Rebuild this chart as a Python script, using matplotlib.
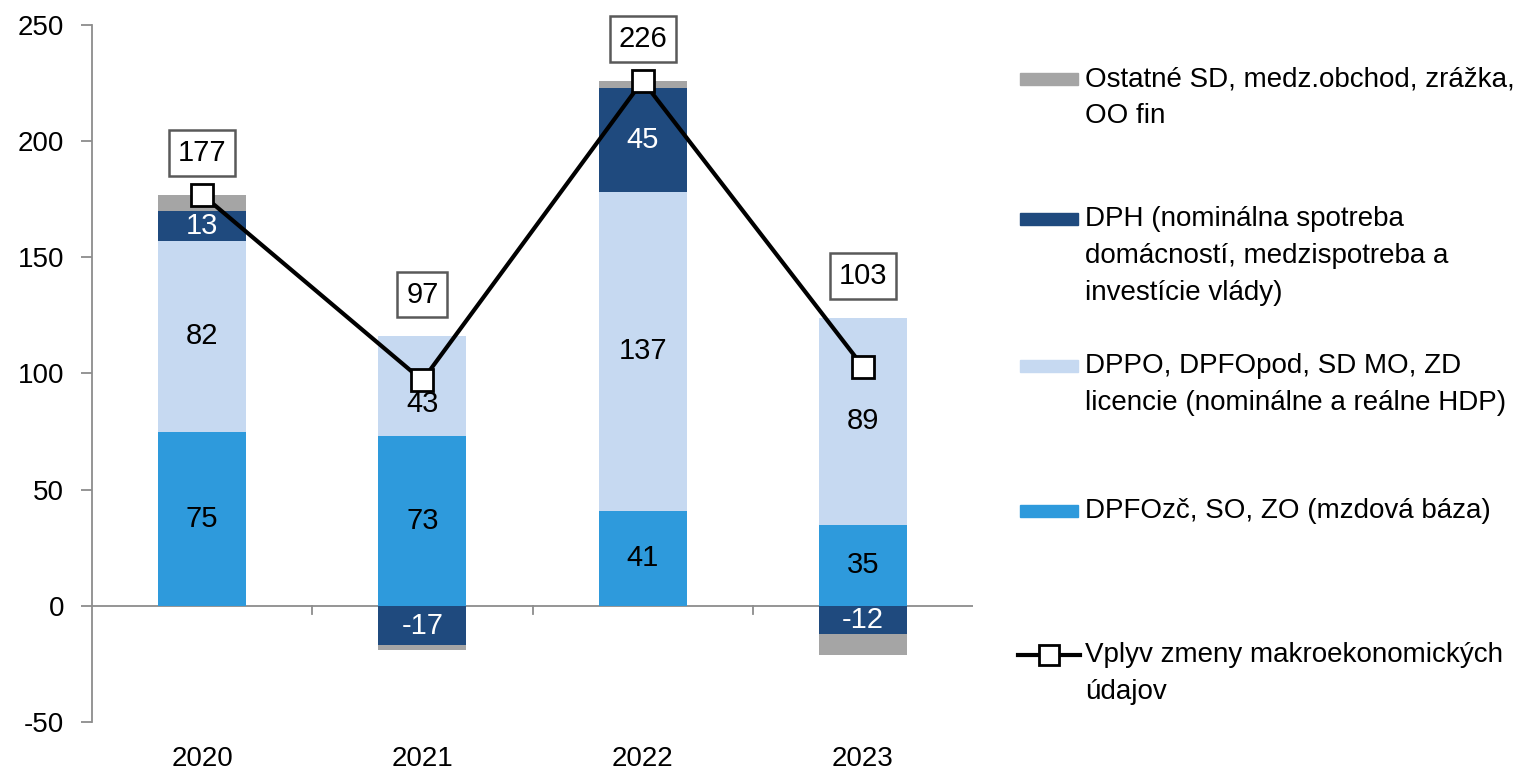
import numpy as np
import matplotlib
matplotlib.use("Agg")
import matplotlib.pyplot as plt
from matplotlib.patches import Rectangle
from matplotlib.lines import Line2D

plt.rcParams["font.family"] = ["Liberation Sans", "DejaVu Sans"]
plt.rcParams["font.size"] = 20
plt.rcParams["axes.unicode_minus"] = False

years = ["2020", "2021", "2022", "2023"]
mzdy = [75, 73, 41, 35]          # DPFOzc, SO, ZO
dppo = [82, 43, 137, 89]         # DPPO, DPFOpod, ...
dph = [13, -17, 45, -12]         # DPH
ostatne = [7, -2, 3, -9]         # Ostatne SD ...
vplyv = [177, 97, 226, 103]      # line

series = [mzdy, dppo, dph, ostatne]
colors = ["#2E9ADC", "#C6D9F1", "#1F4A7E", "#A5A5A5"]
txt_col = ["black", "black", "white", None]
labels = ["Ostatné SD, medz.obchod, zrážka,\nOO fin",
          "DPH (nominálna spotreba\ndomácností, medzispotreba a\ninvestície vlády)",
          "DPPO, DPFOpod, SD MO, ZD\nlicencie (nominálne a reálne HDP)",
          "DPFOzč, SO, ZO (mzdová báza)",
          "Vplyv zmeny makroekonomických\núdajov"]

fig = plt.figure(figsize=(15.24, 7.73), dpi=100)
ax = fig.add_axes([92/1524, 51/773, 881/1524, 697/773])

x = np.arange(len(years))
w = 0.4
pos_base = np.zeros(len(years))
neg_base = np.zeros(len(years))
for vals, c, tc in zip(series, colors, txt_col):
    vals = np.array(vals, dtype=float)
    bottom = np.where(vals >= 0, pos_base, neg_base)
    ax.bar(x, vals, w, bottom=bottom, color=c, zorder=2)
    if tc is not None:
        for xi, b, v, lv in zip(x, bottom, vals, vplyv):
            yc = b + v / 2
            # move label off the line marker if they collide
            if abs(yc - lv) < 10:
                yc = lv - 10
            ax.text(xi, yc, f"{v:.0f}", ha="center", va="center",
                    color=tc, fontsize=21, zorder=3)
    pos_base = pos_base + np.where(vals >= 0, vals, 0)
    neg_base = neg_base + np.where(vals < 0, vals, 0)

ax.plot(x, vplyv, color="black", lw=3, marker="s", ms=16, mfc="white",
        mec="black", mew=2, zorder=4)

for xi, top, v in zip(x, np.maximum(pos_base, vplyv), vplyv):
    ax.text(xi, top + 18, str(v), ha="center", va="center", fontsize=21,
            bbox=dict(boxstyle="square,pad=0.3", fc="white", ec="#595959", lw=1.8),
            zorder=5)

ax.axhline(0, color="#8C8C8C", lw=1.3, zorder=1)
for b in x[:-1] + 0.5:
    ax.plot([b, b], [0, -3.5], color="#8C8C8C", lw=1.3, clip_on=False)

ax.set_xlim(-0.5, len(years) - 0.5)
ax.set_ylim(-50, 250)
ax.set_yticks(np.arange(-50, 251, 50))
ax.set_xticks(x)
ax.set_xticklabels(years)
ax.tick_params(axis="x", length=0, pad=17, labelsize=20)
ax.tick_params(axis="y", length=8, width=1.3, color="#8C8C8C", pad=12, labelsize=20)
for s in ["top", "right", "bottom"]:
    ax.spines[s].set_visible(False)
ax.spines["left"].set_color("#8C8C8C")
ax.spines["left"].set_linewidth(1.3)

# legend drawn by hand, handle sits on the first text line
leg_y = [79, 219, 366, 511, 655]
leg_colors = [colors[3], colors[2], colors[1], colors[0]]
for i, (yy, lab) in enumerate(zip(leg_y, labels)):
    fy = 1 - yy / 773
    if i < 4:
        fig.patches.append(Rectangle((1020/1524, fy - 6/773), 58/1524, 12/773,
                                     transform=fig.transFigure, color=leg_colors[i]))
    else:
        fig.lines.append(Line2D([1018/1524, 1049/1524, 1080/1524], [fy, fy, fy],
                                transform=fig.transFigure, color="black", lw=3,
                                marker="s", ms=15, mfc="white", mec="black", mew=2,
                                markevery=[1]))
    fig.text(1085/1524, 1 - (yy - 13) / 773, lab, ha="left", va="top", fontsize=20,
             linespacing=1.55)

fig.savefig("out.png", dpi=100)
